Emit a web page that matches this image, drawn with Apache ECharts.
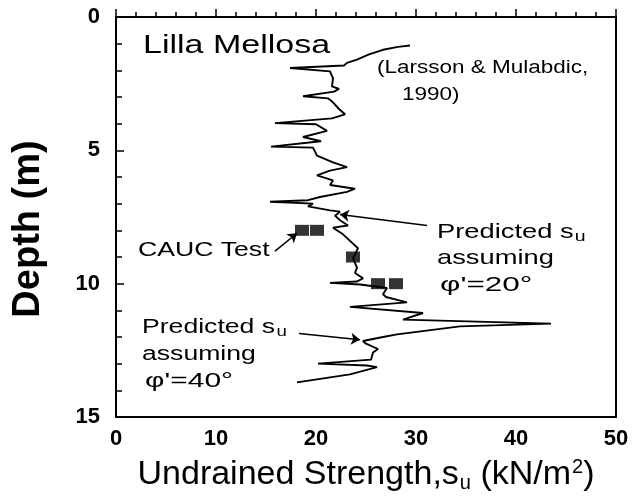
<!DOCTYPE html>
<html>
<head>
<meta charset="utf-8">
<script src="https://cdn.jsdelivr.net/npm/echarts@6/dist/echarts.min.js"></script>
<style>
  html, body { margin: 0; padding: 0; background: #fff; }
  #chart { width: 632px; height: 498px; }
</style>
</head>
<body>
<div id="chart"></div>
<script>
// Lilla Mellosa — su profile vs depth (Larsson & Mulabdic, 1990)

const profileSu = [29.4, 28.2, 26.7, 25.3, 24.1, 23.1, 22.8, 17.4, 21.4, 21.7, 21.6, 22.3, 21.8, 18.7, 21.2,
  21.7, 22.3, 22.9, 21.6, 15.9, 20.0, 21.1, 18.7, 20.5, 15.5, 19.7, 20.1, 21.7, 23.1, 21.4,
  20.1, 21.7, 21.4, 23.9, 23.1, 20.4, 19.2, 15.4, 19.7, 19.2, 21.4, 22.4, 21.9, 22.4, 23.2,
  21.7, 22.7, 23.7, 24.2, 23.9, 23.7, 24.1, 23.9, 24.7, 24.1, 21.4, 24.4, 27.1, 26.7, 27.0,
  29.1, 23.4, 30.7, 28.7, 43.5, 34.4, 28.1, 26.7, 24.7, 25.0, 26.2, 25.7, 25.5, 20.2, 25.1,
  26.1, 23.4, 18.1];
const profileDepth = [1.07, 1.12, 1.23, 1.4, 1.6, 1.72, 1.82, 1.91, 2.04, 2.3, 2.6, 2.7, 2.8, 2.97, 3.05,
  3.2, 3.45, 3.65, 3.8, 3.98, 4.02, 4.27, 4.5, 4.66, 4.86, 4.9, 5.2, 5.45, 5.63, 5.76,
  5.94, 6.13, 6.3, 6.44, 6.56, 6.75, 6.87, 6.93, 7.0, 7.1, 7.25, 7.3, 7.45, 7.62, 7.82,
  7.9, 8.15, 8.5, 8.67, 8.9, 9.05, 9.4, 9.6, 9.8, 9.92, 9.97, 10.03, 10.16, 10.4, 10.5,
  10.7, 10.87, 11.1, 11.35, 11.5, 11.6, 11.9, 12.0, 12.15, 12.25, 12.45, 12.58, 12.85, 13.0, 13.07,
  13.13, 13.4, 13.7];

const caucSu = [18.6, 20.1, 23.7, 26.2, 28.0];
const caucDepth = [8.0, 8.0, 9.0, 10.0, 10.0];

const xTicks = ['0', '10', '20', '30', '40', '50'];
const yTicks = ['0', '5', '10', '15'];

const FONT = 'Liberation Sans';
const INK = '#000';

const chart = echarts.init(document.getElementById('chart'), null, { renderer: 'canvas' });

const arrows = [
  [[31.1, 7.82], [22.4, 7.41]],
  [[15.9, 8.78], [18.1, 8.11]],
  [[18.3, 11.87], [24.4, 12.1]],
];

function note(x, y, text, size, sx) {
  return {
    type: 'text', x, y, scaleX: sx, z: 10,
    style: {
      text, fill: INK, fontFamily: FONT, fontSize: size,
      align: 'left', verticalAlign: 'middle',
      rich: {
        sub: { fontFamily: FONT, fontSize: Math.round(size * 0.7), padding: [10, 0, 0, 1], fill: INK },
      },
    },
  };
}

chart.setOption({
  animation: false,
  textStyle: { fontFamily: FONT, color: INK },
  grid: { left: 116, right: 16, top: 17, bottom: 78, show: true, borderColor: INK, borderWidth: 2 },
  xAxis: {
    type: 'value', min: 0, max: 50, interval: 10,
    axisLine: { lineStyle: { color: INK, width: 2 } },
    axisTick: { inside: true, length: 8, lineStyle: { color: INK, width: 1.5 } },
    minorTick: { show: true, splitNumber: 5, length: 5, lineStyle: { color: INK, width: 1.5 } },
    splitLine: { show: false },
    axisLabel: { color: INK, fontSize: 22, fontWeight: 'bold', margin: 11, formatter: (v) => xTicks[v / 10] },
    name: 'Undrained Strength,s{sub|u} (kN/m{sup|2})',
    nameLocation: 'middle', nameGap: 40,
    nameTextStyle: {
      color: INK, fontSize: 34, fontFamily: FONT,
      rich: {
        sub: { fontSize: 20, fontFamily: FONT, color: INK, padding: [16, 0, 0, 1] },
        sup: { fontSize: 20, fontFamily: FONT, color: INK, padding: [0, 0, 16, 1] },
      },
    },
  },
  yAxis: {
    type: 'value', min: 0, max: 15, interval: 5, inverse: true,
    axisLine: { lineStyle: { color: INK, width: 2 } },
    axisTick: { inside: true, length: 8, lineStyle: { color: INK, width: 1.5 } },
    minorTick: { show: true, splitNumber: 5, length: 6, lineStyle: { color: INK, width: 1.5 } },
    splitLine: { show: false },
    axisLabel: { color: INK, fontSize: 22, fontWeight: 'bold', margin: 16, formatter: (v) => yTicks[v / 5] },
    name: 'Depth (m)',
    nameLocation: 'middle', nameGap: 68, nameRotate: 90,
    nameTextStyle: { color: INK, fontSize: 38, fontWeight: 'bold', fontFamily: FONT, padding: [0, 24, 0, 0] },
  },
  series: [
    {
      type: 'line',
      data: profileSu.map((s, i) => [s, profileDepth[i]]),
      showSymbol: false, symbol: 'none',
      lineStyle: { color: INK, width: 1.9 },
      markLine: {
        silent: true, animation: false,
        symbol: ['none', 'arrow'], symbolSize: 9,
        label: { show: false },
        lineStyle: { color: INK, width: 1.5, type: 'solid' },
        data: arrows.map(([a, b]) => [{ coord: a }, { coord: b }]),
      },
    },
    {
      type: 'scatter',
      data: caucSu.map((s, i) => [s, caucDepth[i]]),
      symbol: 'rect', symbolSize: [14, 11],
      itemStyle: { color: INK },
    },
  ],
  graphic: [
    note(143, 46, 'Lilla Mellosa', 25, 1.36),
    note(377, 68, '(Larsson & Mulabdic,', 18, 1.25),
    note(402, 95, '1990)', 18, 1.25),
    note(437, 232, 'Predicted s{sub|u}', 21, 1.3),
    note(437, 258, 'assuming', 21, 1.3),
    note(440, 285, 'φ\'=20°', 21, 1.5),
    note(138, 250, 'CAUC Test', 20, 1.33),
    note(142, 327, 'Predicted s{sub|u}', 20, 1.33),
    note(142, 354, 'assuming', 20, 1.33),
    note(145, 381, 'φ\'=40°', 20, 1.5),
  ],
});
</script>
</body>
</html>
